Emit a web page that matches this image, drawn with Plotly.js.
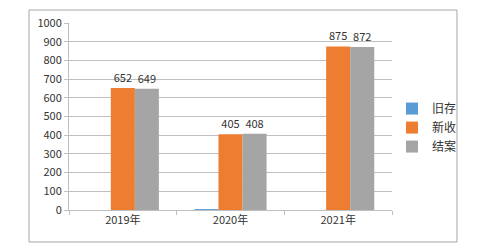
<!DOCTYPE html>
<html><head><meta charset="utf-8">
<script src="https://cdn.plot.ly/plotly-3.0.1.min.js"></script>
<style>html,body{margin:0;padding:0;background:#fff}#c{width:481px;height:251px}</style>
</head><body><div id="c"></div>
<script>
const categories = ['2019年', '2020年', '2021年'];
const seriesNames = ['旧存', '新收', '结案'];
const oldCases = [0, 5, 0];
const newCases = [652, 405, 875];
const closedCases = [649, 408, 872];
const colors = ['#5B9BD5', '#ED7D31', '#A5A5A5'];
const font = "'Noto Sans CJK SC', 'Noto Sans', sans-serif";

const values = [oldCases, newCases, closedCases];
const traces = values.map((v, i) => ({
  type: 'bar', name: seriesNames[i], x: categories, y: v,
  marker: {color: colors[i]},
  text: i === 0 ? null : v.map(String),
  textposition: i === 0 ? 'none' : 'outside',
  textfont: {family: font, size: 11, color: '#333'},
  cliponaxis: false,
  hoverinfo: 'none'
}));

const layout = {
  width: 481, height: 251,
  margin: {l: 69, r: 89, t: 23, b: 41},
  paper_bgcolor: '#fff', plot_bgcolor: '#fff',
  font: {family: font, size: 11, color: '#333'},
  barmode: 'group', bargap: 0.33, bargroupgap: 0,
  xaxis: {
    showline: true, linecolor: '#bfbfbf', linewidth: 1,
    ticks: 'outside', ticklen: 4, tickcolor: '#bfbfbf',
    tickson: 'boundaries', showgrid: false,
    tickfont: {family: font, size: 11, color: '#333'}
  },
  yaxis: {
    range: [0, 1000], dtick: 100, tick0: 0,
    showline: true, linecolor: '#bfbfbf', linewidth: 1,
    ticks: 'outside', ticklen: 4, tickcolor: '#bfbfbf',
    showgrid: true, gridcolor: '#bfbfbf', gridwidth: 1,
    zeroline: false,
    tickfont: {family: font, size: 11, color: '#333'}
  },
  legend: {
    x: 1.0, y: 0.62, xanchor: 'left', yanchor: 'top',
    font: {family: font, size: 12, color: '#333'},
    itemwidth: 30, tracegroupgap: 0, bgcolor: 'rgba(0,0,0,0)'
  },
  showlegend: true,
  shapes: [{
    type: 'rect', xref: 'paper', yref: 'paper',
    x0: -0.1238, x1: 1.2012, y0: -0.1711, y1: 1.0695,
    line: {color: '#a6a6a6', width: 1}, fillcolor: 'rgba(0,0,0,0)', layer: 'below'
  }]
};

Plotly.newPlot('c', traces, layout, {staticPlot: true, displayModeBar: false});
</script></body></html>
